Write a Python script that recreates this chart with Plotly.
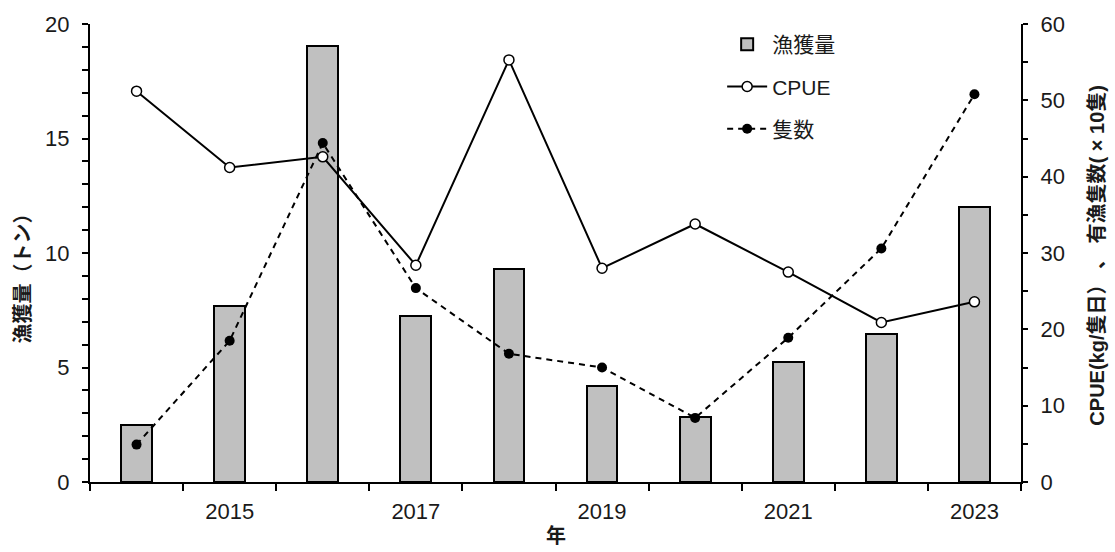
import plotly.graph_objects as go

# Annual data
years = [2014, 2015, 2016, 2017, 2018, 2019, 2020, 2021, 2022, 2023]
catch_t = [2.5, 7.7, 19.05, 7.25, 9.3, 4.2, 2.85, 5.25, 6.45, 12.0]          # 漁獲量（トン）
cpue = [51.2, 41.2, 42.6, 28.4, 55.3, 28.0, 33.8, 27.5, 20.9, 23.6]          # kg/隻日
vessels = [4.9, 18.5, 44.4, 25.4, 16.8, 15.0, 8.4, 18.9, 30.6, 50.8]         # ×10隻

label_years = [2015, 2017, 2019, 2021, 2023]
boundaries = [y - 0.5 for y in years] + [years[-1] + 0.5]

FONT = "Liberation Sans, Arial, Noto Sans CJK JP"
TXT = "#1a1a1a"

fig = go.Figure()

fig.add_trace(go.Bar(
    x=years, y=catch_t, name="漁獲量", width=0.33,
    marker=dict(color="#c0c0c0", line=dict(color="black", width=2)),
    legendgroup="a", yaxis="y", legendrank=1,
))
fig.add_trace(go.Scatter(
    x=years, y=vessels, name="隻数", mode="lines+markers",
    line=dict(color="black", width=2, dash="6px,5px"),
    marker=dict(symbol="circle", size=10, color="black"),
    legendgroup="c", yaxis="y2", legendrank=3,
))
fig.add_trace(go.Scatter(
    x=years, y=cpue, name="CPUE", mode="lines+markers",
    line=dict(color="black", width=2),
    marker=dict(symbol="circle", size=10, color="white",
                line=dict(color="black", width=1.5)),
    legendgroup="b", yaxis="y2", legendrank=2,
))

fig.update_layout(
    width=1115, height=552,
    margin=dict(l=90, r=94, t=18, b=70),
    paper_bgcolor="white", plot_bgcolor="white",
    font=dict(family=FONT, size=22, color=TXT),
    bargap=0,
    showlegend=True,
    legend=dict(
        x=0.679, y=1.0, xanchor="left", yanchor="top",
        bgcolor="rgba(0,0,0,0)", font=dict(size=21, color=TXT),
        tracegroupgap=12, itemwidth=40,
    ),
    xaxis=dict(
        range=[2013.5, 2023.5], tickmode="array",
        tickvals=label_years, ticktext=[str(y) for y in label_years],
        ticks="", ticklabelstandoff=9,
        showline=True, linecolor="black", linewidth=2, showgrid=False,
        zeroline=False,
        minor=dict(tickmode="array", tickvals=boundaries, ticks="outside",
                   ticklen=7, tickwidth=2, tickcolor="black", showgrid=False),
    ),
    yaxis=dict(
        range=[0, 20], tickmode="linear", tick0=0, dtick=5,
        ticks="outside", ticklen=6, tickwidth=2, tickcolor="black",
        ticklabelstandoff=8,
        showline=True, linecolor="black", linewidth=2, showgrid=False,
        zeroline=False,
        minor=dict(dtick=1, ticks="outside", ticklen=6, tickwidth=2,
                   tickcolor="black", showgrid=False),
    ),
    yaxis2=dict(
        range=[0, 60], overlaying="y", side="right",
        tickmode="linear", tick0=0, dtick=10,
        ticks="outside", ticklen=5, tickwidth=2, tickcolor="black",
        ticklabelstandoff=8,
        showline=True, linecolor="black", linewidth=2, showgrid=False,
        zeroline=False,
        minor=dict(dtick=5, ticks="outside", ticklen=5, tickwidth=2,
                   tickcolor="black", showgrid=False),
    ),
)

# Axis titles
fig.add_annotation(
    text="<b>漁獲量（トン）</b>", xref="paper", yref="paper",
    x=-0.072, y=0.455, xanchor="center", yanchor="middle", textangle=-90,
    showarrow=False, font=dict(size=20, color=TXT),
)
fig.add_annotation(
    text="<b>CPUE(kg/隻日） 、 有漁隻数( × 10隻)</b>", xref="paper", yref="paper",
    x=1.082, y=0.495, xanchor="center", yanchor="middle", textangle=-90,
    showarrow=False, font=dict(size=20, color=TXT),
)
fig.add_annotation(
    text="<b>年</b>", xref="paper", yref="paper",
    x=0.5, y=-0.118, xanchor="center", yanchor="middle",
    showarrow=False, font=dict(size=20, color=TXT),
)

fig.write_html("out.html")
